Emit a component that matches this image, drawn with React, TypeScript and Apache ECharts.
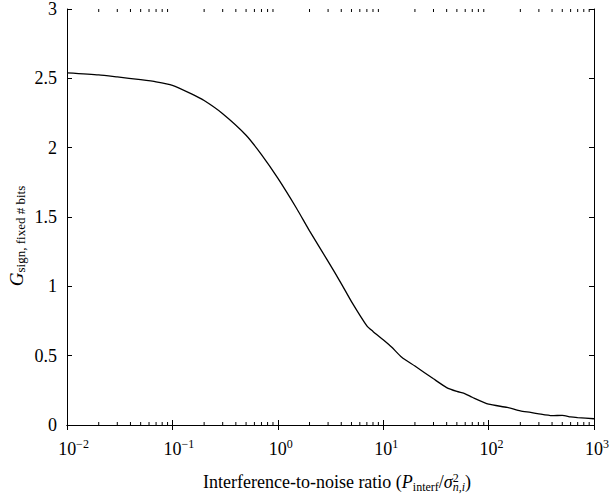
import React, { useEffect, useRef } from "react";
import * as echarts from "echarts";

// Interference-to-noise ratio (x) and G_sign, fixed # bits (y)
const inrValues = [0.01, 0.02, 0.03, 0.05, 0.07, 0.1, 0.15, 0.2, 0.3, 0.5, 0.7, 1, 1.5, 2, 3, 4, 5, 7, 8, 10, 12, 15, 20, 30, 40, 50, 60, 70, 100, 150, 200, 250, 300, 400, 500, 600, 700, 1000];
const gainValues = [2.54, 2.525, 2.51, 2.49, 2.475, 2.45, 2.39, 2.34, 2.245, 2.09, 1.95, 1.78, 1.565, 1.40, 1.18, 1.02, 0.89, 0.715, 0.675, 0.614, 0.562, 0.488, 0.425, 0.333, 0.27, 0.242, 0.225, 0.2, 0.15, 0.127, 0.102, 0.091, 0.08, 0.067, 0.07, 0.058, 0.053, 0.045];

const xMin = 0.01;
const xMax = 1000;
const yMin = 0;
const yMax = 3;
const yStep = 0.5;
const decadeStarts = [0.01, 0.1, 1, 10, 100];
const minorMultipliers = [2, 3, 4, 5, 6, 7, 8, 9];

const FONT = "'Liberation Serif', 'Times New Roman', serif";

export default function App() {
  const ref = useRef<HTMLDivElement>(null);
  useEffect(() => {
    const chart = echarts.init(ref.current!, null, { renderer: "svg" });
    const minorTicks: number[][] = [];
    decadeStarts.forEach((d) => minorMultipliers.forEach((k) => minorTicks.push([+(k * d).toPrecision(3), 0])));
    const lineData = inrValues.map((x, i) => [x, gainValues[i]]);

    const axisLine = { show: true, lineStyle: { color: "#000", width: 1 } };
    const option: any = {
      animation: false,
      backgroundColor: "#fff",
      grid: { left: 67, top: 9, right: 19, bottom: 75, containLabel: false, outerBoundsMode: "none" },
      xAxis: [
        {
          type: "log",
          logBase: 10,
          min: xMin,
          max: xMax,
          position: "bottom",
          axisLine,
          axisTick: { show: true, inside: true, length: 5, lineStyle: { color: "#000" } },
          splitLine: { show: false },
          axisLabel: {
            margin: 13,
            color: "#000",
            fontFamily: FONT,
            formatter: (v: number) => {
              const e = Math.round(Math.log10(v));
              const s = e < 0 ? "\u2212" + -e : String(e);
              const key = s.length > 1 ? "b2" : "b1";
              return `{${key}|10}{s|${s}}`;
            },
            rich: {
              b1: { fontSize: 18, fontFamily: FONT, color: "#000", padding: [0, 0, 0, 6] },
              b2: { fontSize: 18, fontFamily: FONT, color: "#000", padding: [0, 0, 0, 13] },
              s: { fontSize: 12, fontFamily: FONT, color: "#000", padding: [0, 0, 9, 0] },
            },
          },
        },
        {
          type: "log",
          logBase: 10,
          min: xMin,
          max: xMax,
          position: "top",
          axisLine,
          axisTick: { show: true, inside: true, length: 5, lineStyle: { color: "#000" } },
          axisLabel: { show: false },
          splitLine: { show: false },
        },
      ],
      yAxis: [
        {
          type: "value",
          min: yMin,
          max: yMax,
          interval: yStep,
          position: "left",
          axisLine,
          axisTick: { show: true, inside: true, length: 5, lineStyle: { color: "#000" } },
          splitLine: { show: false },
          axisLabel: { margin: 10, color: "#000", fontSize: 18, fontFamily: FONT },
        },
        {
          type: "value",
          min: yMin,
          max: yMax,
          interval: yStep,
          position: "right",
          axisLine,
          axisTick: { show: true, inside: true, length: 5, lineStyle: { color: "#000" } },
          splitLine: { show: false },
          axisLabel: { show: false },
        },
      ],
      series: [
        {
          type: "line",
          data: lineData,
          xAxisIndex: 0,
          yAxisIndex: 0,
          showSymbol: false,
          symbol: "none",
          smooth: 0.2,
          lineStyle: { color: "#000", width: 1.3 },
          silent: true,
        },
        {
          type: "custom",
          xAxisIndex: 0,
          yAxisIndex: 0,
          silent: true,
          clip: false,
          data: minorTicks,
          renderItem: (params: any, api: any) => {
            const v = api.value(0);
            const b = api.coord([v, yMin]);
            const t = api.coord([v, yMax]);
            return {
              type: "group",
              children: [
                { type: "line", shape: { x1: b[0], y1: b[1], x2: b[0], y2: b[1] - 3 }, style: { stroke: "#000", lineWidth: 1 } },
                { type: "line", shape: { x1: t[0], y1: t[1], x2: t[0], y2: t[1] + 3 }, style: { stroke: "#000", lineWidth: 1 } },
              ],
            };
          },
        },
      ],
      graphic: [
        {
          type: "text",
          x: 337,
          y: 482,
          style: {
            text: "{t|Interference-to-noise ratio (}{i|P}{sub|interf}{t|/}{i|\u03c3}{sup|2}{subi|n,i}{t|)}",
            align: "center",
            verticalAlign: "middle",
            rich: {
              t: { fontSize: 18, fontFamily: FONT, fill: "#000" },
              i: { fontSize: 18, fontFamily: FONT, fontStyle: "italic", fill: "#000" },
              sub: { fontSize: 12, fontFamily: FONT, fill: "#000", padding: [9, 0, 0, 0] },
              sup: { fontSize: 12, fontFamily: FONT, fill: "#000", padding: [0, 0, 9, 0] },
              subi: { fontSize: 12, fontFamily: FONT, fontStyle: "italic", fill: "#000", padding: [9, 0, 0, -6] },
            },
          },
        },
        {
          type: "text",
          x: 16,
          y: 236,
          rotation: Math.PI / 2,
          style: {
            text: "{g|G}{s|sign, fixed # bits}",
            align: "center",
            verticalAlign: "middle",
            rich: {
              g: { fontSize: 19, fontFamily: FONT, fontStyle: "italic", fill: "#000" },
              s: { fontSize: 13, fontFamily: FONT, fill: "#000", padding: [9, 0, 0, 0] },
            },
          },
        },
      ],
    };
    chart.setOption(option);
    return () => chart.dispose();
  }, []);
  return (
    <div
      ref={ref}
      style={{ position: "fixed", left: 0, top: 0, width: 613, height: 500, background: "#fff" }}
    />
  );
}
